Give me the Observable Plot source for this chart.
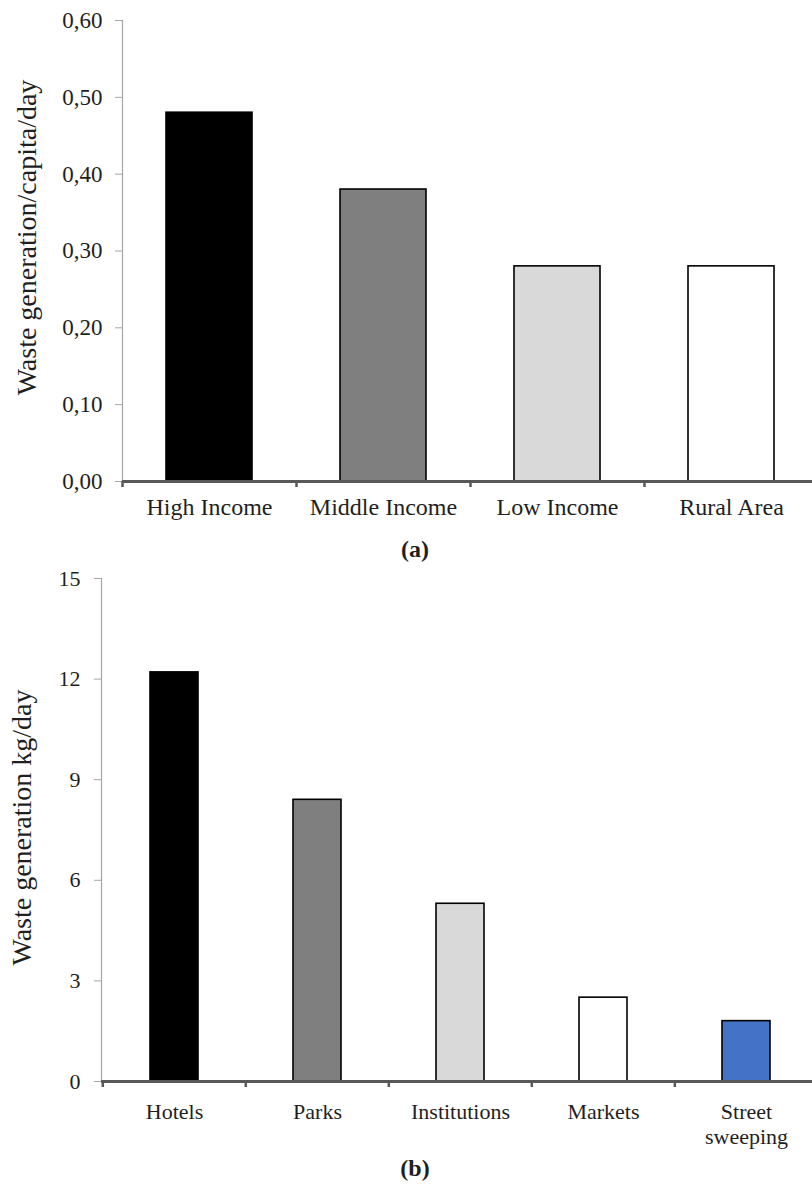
<!DOCTYPE html>
<html><head><meta charset="utf-8">
<script src="https://cdn.jsdelivr.net/npm/d3@7"></script>
<script src="https://cdn.jsdelivr.net/npm/@observablehq/plot@0.6"></script>
<style>
html,body{margin:0;padding:0;background:#fff;}
#root{position:relative;width:812px;height:1184px;overflow:hidden;font-family:"Liberation Serif",Tinos,"DejaVu Serif",serif;color:#1f1f1f;}
#root svg, #root svg text{font-family:"Liberation Serif",Tinos,"DejaVu Serif",serif !important;}
.chart{position:absolute;left:0;}
.cap{position:absolute;left:0;width:830px;text-align:center;font-weight:bold;font-size:24px;line-height:28px;}
</style></head><body><div id="root">
<div id="a" class="chart" style="top:0"></div>
<div class="cap" style="top:535px">(a)</div>
<div id="b" class="chart" style="top:555px"></div>
<div class="cap" style="top:1154px">(b)</div>
</div>
<script>
// Panel (a)
const categoriesA = ["High Income", "Middle Income", "Low Income", "Rural Area"];
const valuesA = [0.48, 0.38, 0.28, 0.28];
const ticksA = [0, 0.1, 0.2, 0.3, 0.4, 0.5, 0.6];
const titleA = "Waste generation/capita/day";

// Panel (b)
const categoriesB = ["Hotels", "Parks", "Institutions", "Markets", "Street sweeping"];
const labelsB = ["Hotels", "Parks", "Institutions", "Markets", "Street\nsweeping"];
const valuesB = [12.2, 8.4, 5.3, 2.5, 1.8];
const ticksB = [0, 3, 6, 9, 12, 15];
const titleB = "Waste generation kg/day";

// styles
const fillsA = ["#000000", "#7f7f7f", "#d9d9d9", "#ffffff"];
const fillsB = ["#000000", "#7f7f7f", "#d9d9d9", "#ffffff", "#4472c4"];
const serif = '"Liberation Serif", Tinos, "DejaVu Serif", serif';

function makeChart(o) {
  const step = (o.xRange[1] - o.xRange[0]) / o.cats.length;
  const data = o.cats.map((c, i) => ({c, v: o.vals[i]}));
  return Plot.plot({
    width: 812, height: o.height,
    marginTop: o.marginTop, marginBottom: o.marginBottom,
    marginLeft: o.xRange[0], marginRight: 0,
    style: {fontFamily: serif, color: "#1f1f1f", background: "transparent", overflow: "visible"},
    x: {domain: o.cats, range: o.xRange, paddingInner: o.padInner, paddingOuter: o.padInner / 2, align: 0.5},
    y: {domain: [0, o.yTop]},
    color: {domain: o.cats, range: o.fills},
    marks: [
      Plot.frame({anchor: "left", stroke: "#a6a6a6", strokeWidth: 1.2}),
      Plot.axisY(o.ticks, {tickSize: 7, tickPadding: o.yTickPad, stroke: "#a6a6a6", tickFormat: o.tickFmt, fontSize: o.tickFont, fill: "#1f1f1f", label: null}),
      Plot.barY(data, {x: "c", y: "v", fill: "c", stroke: "#000", strokeWidth: 1.6}),
      Plot.ruleY([0], {stroke: "#595959", strokeWidth: 3}),
      Plot.axisX({tickSize: 6, fill: "none", stroke: "#595959", strokeWidth: 2.5, dx: -step / 2, label: null}),
      Plot.axisX({tickSize: 0, tickPadding: o.labelPad, tickFormat: o.labelFmt, fontSize: o.labelFont, lineHeight: o.lineHeight, fill: "#1f1f1f", label: null}),
      Plot.text([o.title], {frameAnchor: "left", rotate: -90, dx: o.titleDx, dy: o.titleDy, fontSize: 28, textAnchor: "middle", lineAnchor: "middle", fill: "#1f1f1f"})
    ]
  });
}

document.getElementById("a").append(makeChart({
  cats: categoriesA, vals: valuesA, ticks: ticksA, title: titleA, fills: fillsA,
  height: 535, marginTop: 20, marginBottom: 54, xRange: [122, 818], padInner: 0.506, yTop: 0.6,
  tickFmt: d => d.toFixed(2).replace(".", ","), labelFmt: d => d,
  tickFont: 23, labelFont: 24, labelPad: 16, yTickPad: 13, lineHeight: 1,
  titleDx: -95, titleDy: -13.5
}));

document.getElementById("b").append(makeChart({
  cats: categoriesB, vals: valuesB, ticks: ticksB, title: titleB, fills: fillsB,
  height: 590, marginTop: 23, marginBottom: 64, xRange: [101, 818], padInner: 0.665, yTop: 15,
  tickFmt: d => String(d), labelFmt: d => labelsB[categoriesB.indexOf(d)],
  tickFont: 22, labelFont: 22, labelPad: 20, yTickPad: 14, lineHeight: 1.14,
  titleDx: -79, titleDy: -2.5
}));
</script>
</body></html>
